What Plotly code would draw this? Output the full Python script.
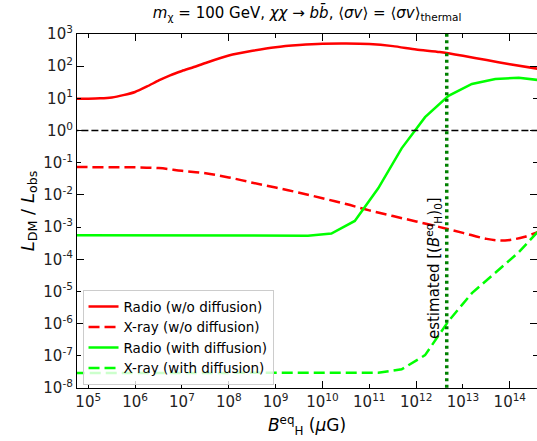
import plotly.graph_objects as go

# ---- data -------------------------------------------------------------
# equipartition field B_H^eq in μG
b_nodiff = [5.6e4, 1e5, 1.8e5, 3.2e5, 5.6e5, 1e6, 1.8e6, 3.2e6, 5.6e6, 1e7, 1.8e7,
            3.2e7, 1e8, 3.2e8, 1e9, 3.2e9, 1e10, 3.2e10, 1e11, 3.2e11, 1e12,
            3.2e12, 1e13, 3.2e13, 1e14, 4e14]
radio_nodiff = [9.8, 9.8, 10.0, 10.7, 12.6, 15.8, 23.4, 36, 52, 71, 94,
                126, 214, 300, 390, 455, 500, 510, 490, 420, 330,
                275, 210, 155, 115, 83]

b_xray_nodiff = [5.6e4, 1e5, 3.2e5, 1e6, 3.2e6, 1e7, 3.2e7, 1e8, 3.2e8, 1e9, 3.2e9,
                 1e10, 3.2e10, 1e11, 3.2e11, 1e12, 3.2e12, 1e13, 3.2e13, 6.3e13,
                 1e14, 2e14, 4e14]
xray_nodiff = [0.074, 0.073, 0.072, 0.072, 0.068, 0.056, 0.047, 0.035, 0.024, 0.017,
               0.0117, 0.0079, 0.0052, 0.0033, 0.0022, 0.0015, 0.0010, 6.6e-4,
               4.3e-4, 3.8e-4, 4.0e-4, 4.9e-4, 7.1e-4]

b_diff = [4.9e4, 1.55e5, 4.9e5, 1.55e6, 4.9e6, 1.55e7, 4.9e7, 1.55e8, 4.9e8,
          1.55e9, 4.9e9, 1.55e10, 4.9e10, 1.55e11, 4.9e11, 1.55e12, 4.9e12,
          1.55e13, 4.9e13, 1.55e14, 4.9e14]
radio_diff = [5.6e-4, 5.6e-4, 5.6e-4, 5.6e-4, 5.6e-4, 5.6e-4, 5.6e-4, 5.6e-4, 5.6e-4,
              5.5e-4, 5.4e-4, 6.3e-4, 1.55e-3, 0.016, 0.28, 2.6, 12,
              28, 40, 43.5, 36]
xray_diff = [2.9e-8, 2.9e-8, 2.9e-8, 2.9e-8, 2.9e-8, 2.9e-8, 2.9e-8, 2.9e-8, 2.9e-8,
             2.9e-8, 2.9e-8, 2.9e-8, 2.9e-8, 3.0e-8, 3.8e-8, 1.05e-7, 1.2e-6,
             8.9e-6, 3.8e-5, 1.66e-4, 1.0e-3]

b_estimated = 4.5e12          # estimated present-day field
ratio_unity = 1.0

x_decades = list(range(5, 15))
y_decades = list(range(-8, 4))

# ---- figure -----------------------------------------------------------
FONT = "DejaVu Sans"
fig = go.Figure()

fig.add_trace(go.Scatter(x=b_nodiff, y=radio_nodiff, mode="lines",
                         name="Radio (w/o diffusion)",
                         line=dict(color="#ff0000", width=2.5, shape="spline",
                                   smoothing=0.6)))
fig.add_trace(go.Scatter(x=b_xray_nodiff, y=xray_nodiff, mode="lines",
                         name="X-ray (w/o diffusion)",
                         line=dict(color="#ff0000", width=2.5, dash="11px,5px",
                                   shape="spline")))
fig.add_trace(go.Scatter(x=b_diff, y=radio_diff, mode="lines",
                         name="Radio (with diffusion)",
                         line=dict(color="#00ff00", width=2.5)))
fig.add_trace(go.Scatter(x=b_diff, y=xray_diff, mode="lines",
                         name="X-ray (with diffusion)",
                         line=dict(color="#00ff00", width=2.5, dash="11px,5px")))

# reference lines
fig.add_trace(go.Scatter(x=[1e4, 1e15], y=[ratio_unity, ratio_unity], mode="lines",
                         showlegend=False, hoverinfo="skip",
                         line=dict(color="black", width=1.6, dash="7px,3px")))
fig.add_trace(go.Scatter(x=[b_estimated, b_estimated], y=[1e-9, 1e4], mode="lines",
                         showlegend=False, hoverinfo="skip",
                         line=dict(color="#008000", width=3.5, dash="3px,3.5px")))

fig.add_annotation(x=12.657, y=0.34, xref="x", yref="paper",
                   text="estimated [(<i>B</i><sup>eq</sup><sub>H</sub>)<sub>0</sub>]",
                   textangle=-90, showarrow=False, xanchor="right", yanchor="middle",
                   xshift=-1, font=dict(family=FONT, size=15, color="black"))

axis_common = dict(
    type="log", showgrid=False, zeroline=False,
    showline=True, linecolor="black", linewidth=1.2,
    ticks="inside", ticklen=4, tickwidth=1.2, tickcolor="black",
    mirror="ticks",
    tickfont=dict(family=FONT, size=15, color="#222"),
)

fig.update_xaxes(
    **axis_common,
    range=[4.76, 14.58],
    tickvals=[10 ** d for d in x_decades],
    ticktext=[f"10<sup>{d}</sup>" for d in x_decades],
    minor=dict(tickvals=[10 ** d for d in x_decades if d % 2 == 0],
               ticks="inside", ticklen=7, tickwidth=1.2, tickcolor="black"),
    title=dict(text="<i>B</i><sup>eq</sup><sub>H</sub> (<i>μ</i>G)",
               font=dict(family=FONT, size=17, color="black"), standoff=9),
)
fig.update_yaxes(
    **axis_common,
    range=[-8, 3],
    tickvals=[10 ** d for d in y_decades],
    ticktext=[f"10<sup>{d}</sup>" for d in y_decades],
    minor=dict(tickvals=[10 ** d for d in y_decades if d % 2 == 0],
               ticks="inside", ticklen=7, tickwidth=1.2, tickcolor="black"),
    title=dict(text="<i>L</i><sub>DM</sub> / <i>L</i><sub>obs</sub>",
               font=dict(family=FONT, size=18, color="black"), standoff=4),
)

fig.update_layout(
    width=537, height=441,
    margin=dict(l=77, r=0, t=34, b=53),
    paper_bgcolor="white", plot_bgcolor="white",
    font=dict(family=FONT, color="black"),
    title=dict(text="<i>m</i><sub>χ</sub> = 100 GeV, <i>χχ</i> → <i>bb̄</i>, "
                    "⟨<i>σv</i>⟩ = ⟨<i>σv</i>⟩<sub>thermal</sub>",
               x=0.572, xanchor="center", y=0.972, yanchor="middle",
               font=dict(family=FONT, size=15, color="black")),
    legend=dict(x=0.012, y=0.008, xanchor="left", yanchor="bottom",
                bgcolor="rgba(255,255,255,0.8)", bordercolor="#cccccc", borderwidth=1,
                font=dict(family=FONT, size=13.5, color="black"),
                tracegroupgap=0, itemwidth=30),
    showlegend=True,
)

fig.write_html("out.html")
